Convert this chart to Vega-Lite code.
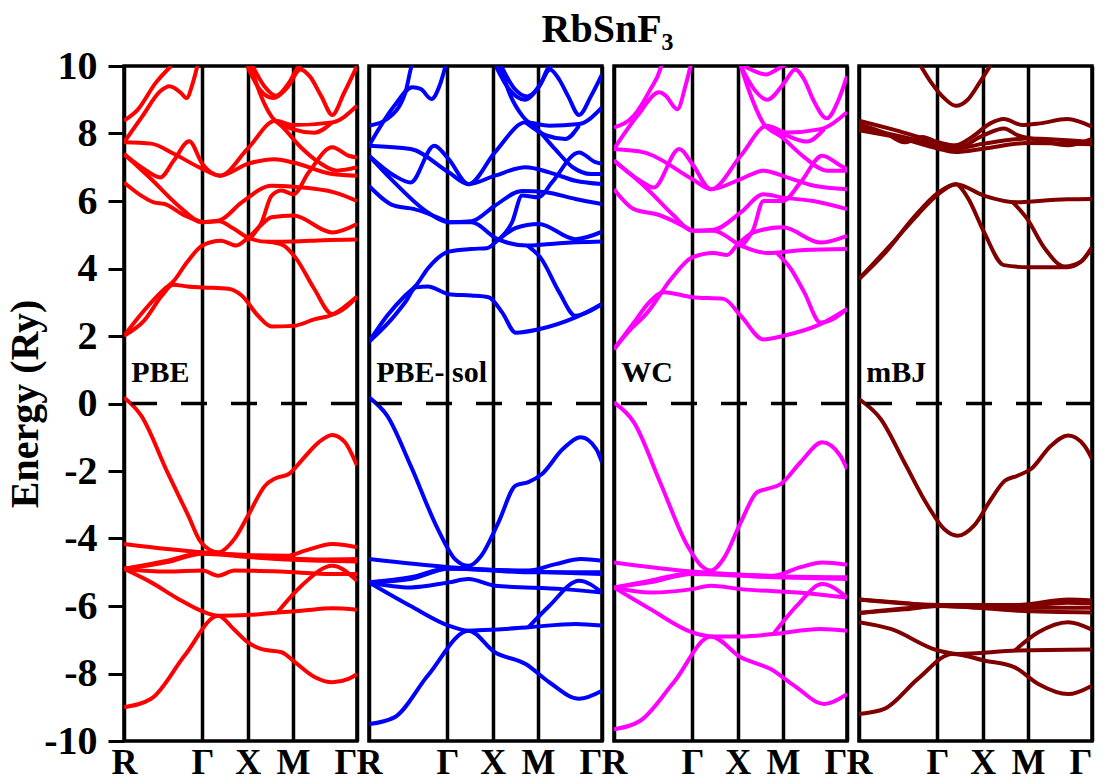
{
  "$schema": "https://vega.github.io/schema/vega-lite/v6.json",
  "background": "white",
  "bounds": "flush",
  "padding": {"left": 5, "top": 10, "right": 5, "bottom": 5},
  "title": {"text": "RbSnF₃", "anchor": "middle", "font": "Liberation Serif", "fontSize": 40, "fontWeight": "bold", "color": "black", "offset": -4, "dx": 57},
  "data": {"values": [
    {"m":"PBE","b":"c1","k":0,"e":2.01},{"m":"PBE","b":"c1","k":0.22,"e":2.45},{"m":"PBE","b":"c1","k":0.42,"e":3.2},{"m":"PBE","b":"c1","k":0.54,"e":3.52},{"m":"PBE","b":"c1","k":0.70,"e":3.47},{"m":"PBE","b":"c1","k":0.866,"e":3.44},{"m":"PBE","b":"c1","k":1.15,"e":3.4},{"m":"PBE","b":"c1","k":1.30,"e":3.2},{"m":"PBE","b":"c1","k":1.48,"e":2.6},{"m":"PBE","b":"c1","k":1.63,"e":2.28},{"m":"PBE","b":"c1","k":1.87,"e":2.3},{"m":"PBE","b":"c1","k":2.11,"e":2.5},{"m":"PBE","b":"c1","k":2.30,"e":2.63},{"m":"PBE","b":"c1","k":2.573,"e":3.17},
    {"m":"PBE","b":"c2","k":0,"e":2.01},{"m":"PBE","b":"c2","k":0.22,"e":2.75},{"m":"PBE","b":"c2","k":0.45,"e":3.4},{"m":"PBE","b":"c2","k":0.54,"e":3.6},{"m":"PBE","b":"c2","k":0.70,"e":4.2},{"m":"PBE","b":"c2","k":0.866,"e":4.68},{"m":"PBE","b":"c2","k":1.07,"e":4.82},{"m":"PBE","b":"c2","k":1.24,"e":4.68},{"m":"PBE","b":"c2","k":1.366,"e":4.9},{"m":"PBE","b":"c2","k":1.50,"e":5.25},{"m":"PBE","b":"c2","k":1.63,"e":5.52},{"m":"PBE","b":"c2","k":1.87,"e":5.57},{"m":"PBE","b":"c2","k":2.30,"e":5.07},{"m":"PBE","b":"c2","k":2.573,"e":5.32},
    {"m":"PBE","b":"c3","k":0.866,"e":5.37},{"m":"PBE","b":"c3","k":1.05,"e":5.4},{"m":"PBE","b":"c3","k":1.2,"e":5.2},{"m":"PBE","b":"c3","k":1.366,"e":4.92},{"m":"PBE","b":"c3","k":1.59,"e":4.79},{"m":"PBE","b":"c3","k":1.87,"e":4.8},{"m":"PBE","b":"c3","k":2.2,"e":4.84},{"m":"PBE","b":"c3","k":2.573,"e":4.86},
    {"m":"PBE","b":"c3b","k":1.59,"e":4.79},{"m":"PBE","b":"c3b","k":1.75,"e":4.7},{"m":"PBE","b":"c3b","k":1.9,"e":4.3},{"m":"PBE","b":"c3b","k":2.1,"e":3.4},{"m":"PBE","b":"c3b","k":2.30,"e":2.65},{"m":"PBE","b":"c3b","k":2.45,"e":2.85},{"m":"PBE","b":"c3b","k":2.573,"e":3.17},
    {"m":"PBE","b":"c4","k":0,"e":7.39},{"m":"PBE","b":"c4","k":0.30,"e":6.65},{"m":"PBE","b":"c4","k":0.60,"e":5.86},{"m":"PBE","b":"c4","k":0.866,"e":5.37},{"m":"PBE","b":"c4","k":1.05,"e":5.42},{"m":"PBE","b":"c4","k":1.30,"e":5.96},{"m":"PBE","b":"c4","k":1.63,"e":6.45},{"m":"PBE","b":"c4","k":1.87,"e":6.42},{"m":"PBE","b":"c4","k":2.33,"e":6.25},{"m":"PBE","b":"c4","k":2.573,"e":6.0},
    {"m":"PBE","b":"c5","k":0,"e":6.55},{"m":"PBE","b":"c5","k":0.19,"e":6.16},{"m":"PBE","b":"c5","k":0.33,"e":5.96},{"m":"PBE","b":"c5","k":0.45,"e":5.91},{"m":"PBE","b":"c5","k":0.67,"e":5.57},{"m":"PBE","b":"c5","k":0.866,"e":5.37},
    {"m":"PBE","b":"c7","k":1.366,"e":4.83},{"m":"PBE","b":"c7","k":1.52,"e":5.37},{"m":"PBE","b":"c7","k":1.63,"e":6.16},{"m":"PBE","b":"c7","k":1.74,"e":6.31},{"m":"PBE","b":"c7","k":1.87,"e":6.2},{"m":"PBE","b":"c7","k":2.04,"e":6.85},{"m":"PBE","b":"c7","k":2.30,"e":7.59},{"m":"PBE","b":"c7","k":2.48,"e":7.34},{"m":"PBE","b":"c7","k":2.573,"e":7.29},
    {"m":"PBE","b":"c8","k":0,"e":7.39},{"m":"PBE","b":"c8","k":0.22,"e":6.95},{"m":"PBE","b":"c8","k":0.40,"e":6.7},{"m":"PBE","b":"c8","k":0.55,"e":7.2},{"m":"PBE","b":"c8","k":0.72,"e":7.77},{"m":"PBE","b":"c8","k":0.866,"e":7.1},{"m":"PBE","b":"c8","k":1.06,"e":6.75},{"m":"PBE","b":"c8","k":1.366,"e":7.1},{"m":"PBE","b":"c8","k":1.66,"e":7.24},{"m":"PBE","b":"c8","k":1.87,"e":7.14},{"m":"PBE","b":"c8","k":2.30,"e":6.8},{"m":"PBE","b":"c8","k":2.573,"e":6.75},
    {"m":"PBE","b":"c9","k":0,"e":7.74},{"m":"PBE","b":"c9","k":0.3,"e":7.7},{"m":"PBE","b":"c9","k":0.55,"e":7.4},{"m":"PBE","b":"c9","k":0.866,"e":6.95},{"m":"PBE","b":"c9","k":1.06,"e":6.75},{"m":"PBE","b":"c9","k":1.366,"e":7.55},{"m":"PBE","b":"c9","k":1.67,"e":8.38},{"m":"PBE","b":"c9","k":1.87,"e":8.25},{"m":"PBE","b":"c9","k":2.30,"e":8.33},{"m":"PBE","b":"c9","k":2.573,"e":8.82},
    {"m":"PBE","b":"c10","k":1.67,"e":8.38},{"m":"PBE","b":"c10","k":1.87,"e":8.12},{"m":"PBE","b":"c10","k":2.1,"e":8.02},{"m":"PBE","b":"c10","k":2.3,"e":8.33},
    {"m":"PBE","b":"c11","k":1.40,"e":10.0},{"m":"PBE","b":"c11","k":1.50,"e":9.2},{"m":"PBE","b":"c11","k":1.63,"e":8.5},{"m":"PBE","b":"c11","k":1.75,"e":8.2},{"m":"PBE","b":"c11","k":1.95,"e":7.6},{"m":"PBE","b":"c11","k":2.15,"e":7.15},{"m":"PBE","b":"c11","k":2.35,"e":6.9},{"m":"PBE","b":"c11","k":2.573,"e":7.0},
    {"m":"PBE","b":"c13","k":0,"e":8.38},{"m":"PBE","b":"c13","k":0.15,"e":8.7},{"m":"PBE","b":"c13","k":0.35,"e":9.5},{"m":"PBE","b":"c13","k":0.52,"e":10.0},
    {"m":"PBE","b":"c14","k":0,"e":7.74},{"m":"PBE","b":"c14","k":0.2,"e":8.5},{"m":"PBE","b":"c14","k":0.4,"e":9.25},{"m":"PBE","b":"c14","k":0.50,"e":9.4},{"m":"PBE","b":"c14","k":0.63,"e":9.2},{"m":"PBE","b":"c14","k":0.69,"e":9.05},{"m":"PBE","b":"c14","k":0.76,"e":9.5},{"m":"PBE","b":"c14","k":0.81,"e":10.0},
    {"m":"PBE","b":"c15","k":1.36,"e":10},{"m":"PBE","b":"c15","k":1.5,"e":9.3},{"m":"PBE","b":"c15","k":1.65,"e":9.05},{"m":"PBE","b":"c15","k":1.8,"e":9.35},{"m":"PBE","b":"c15","k":1.95,"e":9.9},{"m":"PBE","b":"c15","k":2.05,"e":9.7},{"m":"PBE","b":"c15","k":2.18,"e":9.1},{"m":"PBE","b":"c15","k":2.30,"e":8.55},{"m":"PBE","b":"c15","k":2.43,"e":9.2},{"m":"PBE","b":"c15","k":2.573,"e":10},
    {"m":"PBE","b":"c16","k":1.42,"e":10},{"m":"PBE","b":"c16","k":1.55,"e":9.4},{"m":"PBE","b":"c16","k":1.68,"e":9.12},{"m":"PBE","b":"c16","k":1.82,"e":9.5},{"m":"PBE","b":"c16","k":1.92,"e":9.95},{"m":"PBE","b":"c16","k":1.96,"e":10.05},
    {"m":"PBE","b":"v1","k":0,"e":0.18},{"m":"PBE","b":"v1","k":0.19,"e":-0.36},{"m":"PBE","b":"v1","k":0.48,"e":-2.04},{"m":"PBE","b":"v1","k":0.71,"e":-3.32},{"m":"PBE","b":"v1","k":0.85,"e":-4.11},{"m":"PBE","b":"v1","k":1.04,"e":-4.41},{"m":"PBE","b":"v1","k":1.22,"e":-4.01},{"m":"PBE","b":"v1","k":1.37,"e":-3.32},{"m":"PBE","b":"v1","k":1.56,"e":-2.43},{"m":"PBE","b":"v1","k":1.67,"e":-2.22},{"m":"PBE","b":"v1","k":1.82,"e":-2.09},{"m":"PBE","b":"v1","k":1.96,"e":-1.69},{"m":"PBE","b":"v1","k":2.15,"e":-1.15},{"m":"PBE","b":"v1","k":2.30,"e":-0.93},{"m":"PBE","b":"v1","k":2.44,"e":-1.15},{"m":"PBE","b":"v1","k":2.573,"e":-1.84},
    {"m":"PBE","b":"v2","k":0,"e":-4.16},{"m":"PBE","b":"v2","k":0.48,"e":-4.31},{"m":"PBE","b":"v2","k":0.866,"e":-4.41},{"m":"PBE","b":"v2","k":1.366,"e":-4.49},{"m":"PBE","b":"v2","k":1.80,"e":-4.51},{"m":"PBE","b":"v2","k":2.0,"e":-4.36},{"m":"PBE","b":"v2","k":2.30,"e":-4.16},{"m":"PBE","b":"v2","k":2.573,"e":-4.26},
    {"m":"PBE","b":"v3","k":0,"e":-4.9},{"m":"PBE","b":"v3","k":0.48,"e":-4.66},{"m":"PBE","b":"v3","k":0.866,"e":-4.43},{"m":"PBE","b":"v3","k":1.366,"e":-4.51},{"m":"PBE","b":"v3","k":1.87,"e":-4.6},{"m":"PBE","b":"v3","k":2.2,"e":-4.62},{"m":"PBE","b":"v3","k":2.573,"e":-4.61},
    {"m":"PBE","b":"v3b","k":0,"e":-4.9},{"m":"PBE","b":"v3b","k":0.48,"e":-4.7},{"m":"PBE","b":"v3b","k":0.866,"e":-4.45},{"m":"PBE","b":"v3b","k":1.366,"e":-4.55},{"m":"PBE","b":"v3b","k":1.87,"e":-4.63},{"m":"PBE","b":"v3b","k":2.573,"e":-4.68},
    {"m":"PBE","b":"v4","k":0,"e":-4.9},{"m":"PBE","b":"v4","k":0.48,"e":-4.98},{"m":"PBE","b":"v4","k":0.866,"e":-4.95},{"m":"PBE","b":"v4","k":1.04,"e":-5.1},{"m":"PBE","b":"v4","k":1.22,"e":-4.95},{"m":"PBE","b":"v4","k":1.73,"e":-4.98},{"m":"PBE","b":"v4","k":2.30,"e":-5.05},{"m":"PBE","b":"v4","k":2.573,"e":-5.05},
    {"m":"PBE","b":"v5","k":0,"e":-4.9},{"m":"PBE","b":"v5","k":0.30,"e":-5.3},{"m":"PBE","b":"v5","k":0.60,"e":-5.79},{"m":"PBE","b":"v5","k":0.85,"e":-6.14},{"m":"PBE","b":"v5","k":1.04,"e":-6.29},{"m":"PBE","b":"v5","k":1.37,"e":-6.27},{"m":"PBE","b":"v5","k":1.70,"e":-6.19},{"m":"PBE","b":"v5","k":1.96,"e":-6.14},{"m":"PBE","b":"v5","k":2.30,"e":-6.07},{"m":"PBE","b":"v5","k":2.573,"e":-6.11},
    {"m":"PBE","b":"v6","k":0,"e":-9.0},{"m":"PBE","b":"v6","k":0.30,"e":-8.75},{"m":"PBE","b":"v6","k":0.67,"e":-7.47},{"m":"PBE","b":"v6","k":1.04,"e":-6.29},{"m":"PBE","b":"v6","k":1.21,"e":-6.68},{"m":"PBE","b":"v6","k":1.37,"e":-7.08},{"m":"PBE","b":"v6","k":1.52,"e":-7.28},{"m":"PBE","b":"v6","k":1.74,"e":-7.37},{"m":"PBE","b":"v6","k":1.89,"e":-7.67},{"m":"PBE","b":"v6","k":2.11,"e":-8.11},{"m":"PBE","b":"v6","k":2.30,"e":-8.26},{"m":"PBE","b":"v6","k":2.48,"e":-8.16},{"m":"PBE","b":"v6","k":2.573,"e":-8.02},
    {"m":"PBE","b":"v7","k":1.70,"e":-6.17},{"m":"PBE","b":"v7","k":1.96,"e":-5.40},{"m":"PBE","b":"v7","k":2.30,"e":-4.81},{"m":"PBE","b":"v7","k":2.573,"e":-5.25},

    {"m":"PBE- sol","b":"c1","k":0,"e":1.83},{"m":"PBE- sol","b":"c1","k":0.25,"e":2.5},{"m":"PBE- sol","b":"c1","k":0.40,"e":3.0},{"m":"PBE- sol","b":"c1","k":0.52,"e":3.44},{"m":"PBE- sol","b":"c1","k":0.65,"e":3.47},{"m":"PBE- sol","b":"c1","k":0.88,"e":3.24},{"m":"PBE- sol","b":"c1","k":1.13,"e":3.2},{"m":"PBE- sol","b":"c1","k":1.32,"e":3.15},{"m":"PBE- sol","b":"c1","k":1.47,"e":2.7},{"m":"PBE- sol","b":"c1","k":1.62,"e":2.1},{"m":"PBE- sol","b":"c1","k":1.875,"e":2.2},{"m":"PBE- sol","b":"c1","k":2.28,"e":2.55},{"m":"PBE- sol","b":"c1","k":2.573,"e":2.95},
    {"m":"PBE- sol","b":"c2","k":0,"e":1.83},{"m":"PBE- sol","b":"c2","k":0.2,"e":2.6},{"m":"PBE- sol","b":"c2","k":0.40,"e":3.2},{"m":"PBE- sol","b":"c2","k":0.52,"e":3.5},{"m":"PBE- sol","b":"c2","k":0.65,"e":4.0},{"m":"PBE- sol","b":"c2","k":0.88,"e":4.5},{"m":"PBE- sol","b":"c2","k":1.13,"e":4.58},{"m":"PBE- sol","b":"c2","k":1.3,"e":4.6},{"m":"PBE- sol","b":"c2","k":1.42,"e":4.83},{"m":"PBE- sol","b":"c2","k":1.62,"e":5.2},{"m":"PBE- sol","b":"c2","k":1.875,"e":5.32},{"m":"PBE- sol","b":"c2","k":2.28,"e":4.87},{"m":"PBE- sol","b":"c2","k":2.573,"e":5.09},
    {"m":"PBE- sol","b":"c3","k":0.88,"e":5.37},{"m":"PBE- sol","b":"c3","k":1.13,"e":5.37},{"m":"PBE- sol","b":"c3","k":1.42,"e":4.87},{"m":"PBE- sol","b":"c3","k":1.75,"e":4.68},{"m":"PBE- sol","b":"c3","k":2.1,"e":4.75},{"m":"PBE- sol","b":"c3","k":2.573,"e":4.8},
    {"m":"PBE- sol","b":"c3b","k":1.75,"e":4.68},{"m":"PBE- sol","b":"c3b","k":1.9,"e":4.3},{"m":"PBE- sol","b":"c3b","k":2.1,"e":3.3},{"m":"PBE- sol","b":"c3b","k":2.28,"e":2.6},{"m":"PBE- sol","b":"c3b","k":2.45,"e":2.75},{"m":"PBE- sol","b":"c3b","k":2.573,"e":2.95},
    {"m":"PBE- sol","b":"c4","k":0,"e":7.34},{"m":"PBE- sol","b":"c4","k":0.28,"e":6.55},{"m":"PBE- sol","b":"c4","k":0.65,"e":5.66},{"m":"PBE- sol","b":"c4","k":0.88,"e":5.37},{"m":"PBE- sol","b":"c4","k":1.13,"e":5.4},{"m":"PBE- sol","b":"c4","k":1.39,"e":5.86},{"m":"PBE- sol","b":"c4","k":1.69,"e":6.3},{"m":"PBE- sol","b":"c4","k":1.95,"e":6.26},{"m":"PBE- sol","b":"c4","k":2.28,"e":6.06},{"m":"PBE- sol","b":"c4","k":2.573,"e":5.91},
    {"m":"PBE- sol","b":"c5","k":0,"e":6.45},{"m":"PBE- sol","b":"c5","k":0.28,"e":5.86},{"m":"PBE- sol","b":"c5","k":0.50,"e":5.76},{"m":"PBE- sol","b":"c5","k":0.88,"e":5.37},
    {"m":"PBE- sol","b":"c7","k":1.42,"e":4.83},{"m":"PBE- sol","b":"c7","k":1.58,"e":5.37},{"m":"PBE- sol","b":"c7","k":1.69,"e":6.16},{"m":"PBE- sol","b":"c7","k":1.875,"e":6.11},{"m":"PBE- sol","b":"c7","k":2.02,"e":6.55},{"m":"PBE- sol","b":"c7","k":2.32,"e":7.44},{"m":"PBE- sol","b":"c7","k":2.50,"e":7.15},{"m":"PBE- sol","b":"c7","k":2.573,"e":7.1},
    {"m":"PBE- sol","b":"c8","k":0,"e":7.34},{"m":"PBE- sol","b":"c8","k":0.28,"e":6.75},{"m":"PBE- sol","b":"c8","k":0.46,"e":6.55},{"m":"PBE- sol","b":"c8","k":0.72,"e":7.64},{"m":"PBE- sol","b":"c8","k":0.88,"e":7.24},{"m":"PBE- sol","b":"c8","k":1.1,"e":6.5},{"m":"PBE- sol","b":"c8","k":1.39,"e":6.75},{"m":"PBE- sol","b":"c8","k":1.73,"e":7.0},{"m":"PBE- sol","b":"c8","k":1.99,"e":6.85},{"m":"PBE- sol","b":"c8","k":2.28,"e":6.6},{"m":"PBE- sol","b":"c8","k":2.573,"e":6.5},
    {"m":"PBE- sol","b":"c9","k":0,"e":7.64},{"m":"PBE- sol","b":"c9","k":0.46,"e":7.54},{"m":"PBE- sol","b":"c9","k":0.88,"e":6.85},{"m":"PBE- sol","b":"c9","k":1.1,"e":6.5},{"m":"PBE- sol","b":"c9","k":1.39,"e":7.44},{"m":"PBE- sol","b":"c9","k":1.73,"e":8.33},{"m":"PBE- sol","b":"c9","k":1.99,"e":8.23},{"m":"PBE- sol","b":"c9","k":2.32,"e":8.28},{"m":"PBE- sol","b":"c9","k":2.573,"e":8.77},
    {"m":"PBE- sol","b":"c10","k":1.73,"e":8.33},{"m":"PBE- sol","b":"c10","k":1.95,"e":7.95},{"m":"PBE- sol","b":"c10","k":2.17,"e":7.84},{"m":"PBE- sol","b":"c10","k":2.32,"e":8.23},
    {"m":"PBE- sol","b":"c11","k":1.45,"e":10},{"m":"PBE- sol","b":"c11","k":1.55,"e":9.2},{"m":"PBE- sol","b":"c11","k":1.70,"e":8.5},{"m":"PBE- sol","b":"c11","k":1.85,"e":8.15},{"m":"PBE- sol","b":"c11","k":2.05,"e":7.55},{"m":"PBE- sol","b":"c11","k":2.25,"e":7.0},{"m":"PBE- sol","b":"c11","k":2.45,"e":6.8},{"m":"PBE- sol","b":"c11","k":2.573,"e":6.8},
    {"m":"PBE- sol","b":"c13","k":0,"e":8.23},{"m":"PBE- sol","b":"c13","k":0.2,"e":8.43},{"m":"PBE- sol","b":"c13","k":0.40,"e":9.2},{"m":"PBE- sol","b":"c13","k":0.46,"e":9.9},{"m":"PBE- sol","b":"c13","k":0.48,"e":10.1},
    {"m":"PBE- sol","b":"c14","k":0,"e":7.64},{"m":"PBE- sol","b":"c14","k":0.28,"e":8.82},{"m":"PBE- sol","b":"c14","k":0.48,"e":9.37},{"m":"PBE- sol","b":"c14","k":0.57,"e":9.32},{"m":"PBE- sol","b":"c14","k":0.69,"e":9.02},{"m":"PBE- sol","b":"c14","k":0.78,"e":9.42},{"m":"PBE- sol","b":"c14","k":0.85,"e":10.05},
    {"m":"PBE- sol","b":"c15","k":1.40,"e":10},{"m":"PBE- sol","b":"c15","k":1.55,"e":9.3},{"m":"PBE- sol","b":"c15","k":1.72,"e":9.0},{"m":"PBE- sol","b":"c15","k":1.88,"e":9.4},{"m":"PBE- sol","b":"c15","k":2.0,"e":9.9},{"m":"PBE- sol","b":"c15","k":2.1,"e":9.6},{"m":"PBE- sol","b":"c15","k":2.2,"e":9.1},{"m":"PBE- sol","b":"c15","k":2.32,"e":8.55},{"m":"PBE- sol","b":"c15","k":2.45,"e":9.1},{"m":"PBE- sol","b":"c15","k":2.573,"e":9.75},
    {"m":"PBE- sol","b":"c16","k":1.46,"e":10},{"m":"PBE- sol","b":"c16","k":1.6,"e":9.35},{"m":"PBE- sol","b":"c16","k":1.75,"e":9.1},{"m":"PBE- sol","b":"c16","k":1.9,"e":9.5},{"m":"PBE- sol","b":"c16","k":1.98,"e":9.95},{"m":"PBE- sol","b":"c16","k":2.02,"e":10.05},
    {"m":"PBE- sol","b":"v1","k":0,"e":0.18},{"m":"PBE- sol","b":"v1","k":0.20,"e":-0.36},{"m":"PBE- sol","b":"v1","k":0.46,"e":-1.84},{"m":"PBE- sol","b":"v1","k":0.76,"e":-3.72},{"m":"PBE- sol","b":"v1","k":0.95,"e":-4.61},{"m":"PBE- sol","b":"v1","k":1.10,"e":-4.81},{"m":"PBE- sol","b":"v1","k":1.24,"e":-4.51},{"m":"PBE- sol","b":"v1","k":1.43,"e":-3.52},{"m":"PBE- sol","b":"v1","k":1.62,"e":-2.43},{"m":"PBE- sol","b":"v1","k":1.76,"e":-2.33},{"m":"PBE- sol","b":"v1","k":1.91,"e":-2.09},{"m":"PBE- sol","b":"v1","k":2.14,"e":-1.35},{"m":"PBE- sol","b":"v1","k":2.34,"e":-1.0},{"m":"PBE- sol","b":"v1","k":2.51,"e":-1.35},{"m":"PBE- sol","b":"v1","k":2.573,"e":-1.74},
    {"m":"PBE- sol","b":"v2","k":0,"e":-4.61},{"m":"PBE- sol","b":"v2","k":0.88,"e":-4.85},{"m":"PBE- sol","b":"v2","k":1.76,"e":-4.95},{"m":"PBE- sol","b":"v2","k":2.06,"e":-4.76},{"m":"PBE- sol","b":"v2","k":2.34,"e":-4.61},{"m":"PBE- sol","b":"v2","k":2.573,"e":-4.66},
    {"m":"PBE- sol","b":"v3","k":0,"e":-5.3},{"m":"PBE- sol","b":"v3","k":0.46,"e":-5.2},{"m":"PBE- sol","b":"v3","k":0.88,"e":-4.9},{"m":"PBE- sol","b":"v3","k":1.76,"e":-4.98},{"m":"PBE- sol","b":"v3","k":2.573,"e":-5.05},
    {"m":"PBE- sol","b":"v3b","k":0,"e":-5.3},{"m":"PBE- sol","b":"v3b","k":0.46,"e":-5.15},{"m":"PBE- sol","b":"v3b","k":0.88,"e":-4.88},{"m":"PBE- sol","b":"v3b","k":1.76,"e":-5.0},{"m":"PBE- sol","b":"v3b","k":2.2,"e":-5.0},{"m":"PBE- sol","b":"v3b","k":2.573,"e":-5.0},
    {"m":"PBE- sol","b":"v4","k":0,"e":-5.3},{"m":"PBE- sol","b":"v4","k":0.46,"e":-5.45},{"m":"PBE- sol","b":"v4","k":0.88,"e":-5.3},{"m":"PBE- sol","b":"v4","k":1.1,"e":-5.2},{"m":"PBE- sol","b":"v4","k":1.39,"e":-5.4},{"m":"PBE- sol","b":"v4","k":2.14,"e":-5.5},{"m":"PBE- sol","b":"v4","k":2.573,"e":-5.6},
    {"m":"PBE- sol","b":"v5","k":0,"e":-5.3},{"m":"PBE- sol","b":"v5","k":0.46,"e":-6.0},{"m":"PBE- sol","b":"v5","k":0.88,"e":-6.58},{"m":"PBE- sol","b":"v5","k":1.1,"e":-6.73},{"m":"PBE- sol","b":"v5","k":1.39,"e":-6.7},{"m":"PBE- sol","b":"v5","k":1.76,"e":-6.63},{"m":"PBE- sol","b":"v5","k":2.28,"e":-6.53},{"m":"PBE- sol","b":"v5","k":2.573,"e":-6.58},
    {"m":"PBE- sol","b":"v6","k":0,"e":-9.5},{"m":"PBE- sol","b":"v6","k":0.28,"e":-9.3},{"m":"PBE- sol","b":"v6","k":0.65,"e":-8.06},{"m":"PBE- sol","b":"v6","k":1.1,"e":-6.73},{"m":"PBE- sol","b":"v6","k":1.39,"e":-7.37},{"m":"PBE- sol","b":"v6","k":1.73,"e":-7.72},{"m":"PBE- sol","b":"v6","k":1.99,"e":-8.26},{"m":"PBE- sol","b":"v6","k":2.32,"e":-8.75},{"m":"PBE- sol","b":"v6","k":2.573,"e":-8.51},
    {"m":"PBE- sol","b":"v7","k":1.76,"e":-6.63},{"m":"PBE- sol","b":"v7","k":1.99,"e":-6.0},{"m":"PBE- sol","b":"v7","k":2.32,"e":-5.25},{"m":"PBE- sol","b":"v7","k":2.573,"e":-5.6},

    {"m":"WC","b":"c1","k":0,"e":1.61},{"m":"WC","b":"c1","k":0.22,"e":2.4},{"m":"WC","b":"c1","k":0.39,"e":3.0},{"m":"WC","b":"c1","k":0.55,"e":3.3},{"m":"WC","b":"c1","k":0.864,"e":3.15},{"m":"WC","b":"c1","k":1.21,"e":3.1},{"m":"WC","b":"c1","k":1.40,"e":2.6},{"m":"WC","b":"c1","k":1.65,"e":1.9},{"m":"WC","b":"c1","k":1.864,"e":2.0},{"m":"WC","b":"c1","k":2.28,"e":2.35},{"m":"WC","b":"c1","k":2.573,"e":2.8},
    {"m":"WC","b":"c2","k":0,"e":1.61},{"m":"WC","b":"c2","k":0.15,"e":2.1},{"m":"WC","b":"c2","k":0.37,"e":2.7},{"m":"WC","b":"c2","k":0.63,"e":3.69},{"m":"WC","b":"c2","k":0.864,"e":4.33},{"m":"WC","b":"c2","k":1.1,"e":4.46},{"m":"WC","b":"c2","k":1.25,"e":4.4},{"m":"WC","b":"c2","k":1.36,"e":4.7},{"m":"WC","b":"c2","k":1.54,"e":5.07},{"m":"WC","b":"c2","k":1.864,"e":5.22},{"m":"WC","b":"c2","k":2.28,"e":4.77},{"m":"WC","b":"c2","k":2.573,"e":4.97},
    {"m":"WC","b":"c3","k":0.864,"e":5.12},{"m":"WC","b":"c3","k":1.1,"e":5.12},{"m":"WC","b":"c3","k":1.40,"e":4.68},{"m":"WC","b":"c3","k":1.69,"e":4.46},{"m":"WC","b":"c3","k":2.1,"e":4.55},{"m":"WC","b":"c3","k":2.573,"e":4.58},
    {"m":"WC","b":"c3b","k":1.80,"e":4.46},{"m":"WC","b":"c3b","k":1.95,"e":4.0},{"m":"WC","b":"c3b","k":2.1,"e":3.3},{"m":"WC","b":"c3b","k":2.28,"e":2.4},{"m":"WC","b":"c3b","k":2.45,"e":2.55},{"m":"WC","b":"c3b","k":2.573,"e":2.8},
    {"m":"WC","b":"c4","k":0,"e":7.2},{"m":"WC","b":"c4","k":0.37,"e":6.35},{"m":"WC","b":"c4","k":0.66,"e":5.57},{"m":"WC","b":"c4","k":0.864,"e":5.12},{"m":"WC","b":"c4","k":1.1,"e":5.15},{"m":"WC","b":"c4","k":1.40,"e":5.66},{"m":"WC","b":"c4","k":1.65,"e":6.2},{"m":"WC","b":"c4","k":1.864,"e":6.1},{"m":"WC","b":"c4","k":2.2,"e":6.0},{"m":"WC","b":"c4","k":2.573,"e":5.76},
    {"m":"WC","b":"c5","k":0,"e":6.35},{"m":"WC","b":"c5","k":0.22,"e":5.76},{"m":"WC","b":"c5","k":0.48,"e":5.6},{"m":"WC","b":"c5","k":0.864,"e":5.12},
    {"m":"WC","b":"c7","k":1.40,"e":4.63},{"m":"WC","b":"c7","k":1.54,"e":5.17},{"m":"WC","b":"c7","k":1.65,"e":6.0},{"m":"WC","b":"c7","k":1.864,"e":6.0},{"m":"WC","b":"c7","k":2.06,"e":6.55},{"m":"WC","b":"c7","k":2.30,"e":7.34},{"m":"WC","b":"c7","k":2.50,"e":7.05},{"m":"WC","b":"c7","k":2.573,"e":6.95},
    {"m":"WC","b":"c8","k":0,"e":7.2},{"m":"WC","b":"c8","k":0.29,"e":6.6},{"m":"WC","b":"c8","k":0.44,"e":6.4},{"m":"WC","b":"c8","k":0.72,"e":7.54},{"m":"WC","b":"c8","k":0.864,"e":7.1},{"m":"WC","b":"c8","k":1.07,"e":6.35},{"m":"WC","b":"c8","k":1.40,"e":6.65},{"m":"WC","b":"c8","k":1.65,"e":6.9},{"m":"WC","b":"c8","k":1.91,"e":6.7},{"m":"WC","b":"c8","k":2.21,"e":6.45},{"m":"WC","b":"c8","k":2.573,"e":6.35},
    {"m":"WC","b":"c9","k":0,"e":7.54},{"m":"WC","b":"c9","k":0.33,"e":7.44},{"m":"WC","b":"c9","k":0.864,"e":6.65},{"m":"WC","b":"c9","k":1.07,"e":6.35},{"m":"WC","b":"c9","k":1.40,"e":7.34},{"m":"WC","b":"c9","k":1.69,"e":8.23},{"m":"WC","b":"c9","k":1.91,"e":8.03},{"m":"WC","b":"c9","k":2.28,"e":8.13},{"m":"WC","b":"c9","k":2.573,"e":8.63},
    {"m":"WC","b":"c10","k":1.69,"e":8.23},{"m":"WC","b":"c10","k":1.91,"e":7.94},{"m":"WC","b":"c10","k":2.13,"e":7.76},{"m":"WC","b":"c10","k":2.32,"e":8.13},
    {"m":"WC","b":"c11","k":1.40,"e":10},{"m":"WC","b":"c11","k":1.50,"e":9.2},{"m":"WC","b":"c11","k":1.65,"e":8.3},{"m":"WC","b":"c11","k":1.85,"e":7.9},{"m":"WC","b":"c11","k":2.1,"e":7.3},{"m":"WC","b":"c11","k":2.35,"e":6.9},{"m":"WC","b":"c11","k":2.573,"e":6.9},
    {"m":"WC","b":"c13","k":0,"e":8.18},{"m":"WC","b":"c13","k":0.22,"e":8.53},{"m":"WC","b":"c13","k":0.40,"e":9.3},{"m":"WC","b":"c13","k":0.51,"e":9.9},{"m":"WC","b":"c13","k":0.53,"e":10.1},
    {"m":"WC","b":"c14","k":0,"e":7.54},{"m":"WC","b":"c14","k":0.26,"e":8.53},{"m":"WC","b":"c14","k":0.50,"e":9.22},{"m":"WC","b":"c14","k":0.57,"e":9.12},{"m":"WC","b":"c14","k":0.70,"e":8.72},{"m":"WC","b":"c14","k":0.79,"e":9.42},{"m":"WC","b":"c14","k":0.85,"e":10.05},
    {"m":"WC","b":"c15","k":1.40,"e":10},{"m":"WC","b":"c15","k":1.55,"e":9.3},{"m":"WC","b":"c15","k":1.69,"e":9.0},{"m":"WC","b":"c15","k":1.88,"e":9.5},{"m":"WC","b":"c15","k":2.0,"e":9.9},{"m":"WC","b":"c15","k":2.1,"e":9.6},{"m":"WC","b":"c15","k":2.2,"e":9.0},{"m":"WC","b":"c15","k":2.35,"e":8.45},{"m":"WC","b":"c15","k":2.48,"e":9.0},{"m":"WC","b":"c15","k":2.573,"e":9.7},
    {"m":"WC","b":"c16","k":1.40,"e":10.05},{"m":"WC","b":"c16","k":1.55,"e":9.85},{"m":"WC","b":"c16","k":1.68,"e":9.75},{"m":"WC","b":"c16","k":1.8,"e":9.9},{"m":"WC","b":"c16","k":1.9,"e":10.05},
    {"m":"WC","b":"v1","k":0,"e":0.03},{"m":"WC","b":"v1","k":0.22,"e":-0.56},{"m":"WC","b":"v1","k":0.51,"e":-2.34},{"m":"WC","b":"v1","k":0.81,"e":-4.21},{"m":"WC","b":"v1","k":0.96,"e":-4.8},{"m":"WC","b":"v1","k":1.07,"e":-4.95},{"m":"WC","b":"v1","k":1.21,"e":-4.6},{"m":"WC","b":"v1","k":1.40,"e":-3.52},{"m":"WC","b":"v1","k":1.58,"e":-2.63},{"m":"WC","b":"v1","k":1.69,"e":-2.53},{"m":"WC","b":"v1","k":1.84,"e":-2.39},{"m":"WC","b":"v1","k":2.06,"e":-1.74},{"m":"WC","b":"v1","k":2.30,"e":-1.15},{"m":"WC","b":"v1","k":2.50,"e":-1.55},{"m":"WC","b":"v1","k":2.573,"e":-1.94},
    {"m":"WC","b":"v2","k":0,"e":-4.71},{"m":"WC","b":"v2","k":0.864,"e":-4.98},{"m":"WC","b":"v2","k":1.76,"e":-5.1},{"m":"WC","b":"v2","k":2.06,"e":-4.85},{"m":"WC","b":"v2","k":2.30,"e":-4.71},{"m":"WC","b":"v2","k":2.573,"e":-4.78},
    {"m":"WC","b":"v3","k":0,"e":-5.45},{"m":"WC","b":"v3","k":0.40,"e":-5.3},{"m":"WC","b":"v3","k":0.864,"e":-5.05},{"m":"WC","b":"v3","k":1.76,"e":-5.15},{"m":"WC","b":"v3","k":2.573,"e":-5.2},
    {"m":"WC","b":"v3b","k":0,"e":-5.45},{"m":"WC","b":"v3b","k":0.4,"e":-5.25},{"m":"WC","b":"v3b","k":0.864,"e":-5.02},{"m":"WC","b":"v3b","k":1.76,"e":-5.12},{"m":"WC","b":"v3b","k":2.573,"e":-5.15},
    {"m":"WC","b":"v4","k":0,"e":-5.45},{"m":"WC","b":"v4","k":0.40,"e":-5.6},{"m":"WC","b":"v4","k":0.864,"e":-5.5},{"m":"WC","b":"v4","k":1.07,"e":-5.4},{"m":"WC","b":"v4","k":1.40,"e":-5.5},{"m":"WC","b":"v4","k":2.13,"e":-5.62},{"m":"WC","b":"v4","k":2.573,"e":-5.75},
    {"m":"WC","b":"v5","k":0,"e":-5.45},{"m":"WC","b":"v5","k":0.40,"e":-6.09},{"m":"WC","b":"v5","k":0.864,"e":-6.78},{"m":"WC","b":"v5","k":1.07,"e":-6.9},{"m":"WC","b":"v5","k":1.40,"e":-6.9},{"m":"WC","b":"v5","k":1.76,"e":-6.83},{"m":"WC","b":"v5","k":2.28,"e":-6.68},{"m":"WC","b":"v5","k":2.573,"e":-6.73},
    {"m":"WC","b":"v6","k":0,"e":-9.65},{"m":"WC","b":"v6","k":0.29,"e":-9.4},{"m":"WC","b":"v6","k":0.66,"e":-8.26},{"m":"WC","b":"v6","k":1.07,"e":-6.9},{"m":"WC","b":"v6","k":1.40,"e":-7.52},{"m":"WC","b":"v6","k":1.73,"e":-7.87},{"m":"WC","b":"v6","k":1.99,"e":-8.36},{"m":"WC","b":"v6","k":2.32,"e":-8.9},{"m":"WC","b":"v6","k":2.573,"e":-8.61},
    {"m":"WC","b":"v7","k":1.76,"e":-6.83},{"m":"WC","b":"v7","k":2.02,"e":-5.99},{"m":"WC","b":"v7","k":2.30,"e":-5.35},{"m":"WC","b":"v7","k":2.573,"e":-5.75},

    {"m":"mBJ","b":"m1","k":0,"e":3.69},{"m":"mBJ","b":"m1","k":0.3,"e":4.5},{"m":"mBJ","b":"m1","k":0.6,"e":5.5},{"m":"mBJ","b":"m1","k":0.875,"e":6.25},{"m":"mBJ","b":"m1","k":1.07,"e":6.5},{"m":"mBJ","b":"m1","k":1.377,"e":6.16},{"m":"mBJ","b":"m1","k":1.75,"e":5.96},{"m":"mBJ","b":"m1","k":1.864,"e":5.98},{"m":"mBJ","b":"m1","k":2.3,"e":6.05},{"m":"mBJ","b":"m1","k":2.573,"e":6.06},
    {"m":"mBJ","b":"m2","k":0,"e":3.69},{"m":"mBJ","b":"m2","k":0.35,"e":4.7},{"m":"mBJ","b":"m2","k":0.65,"e":5.6},{"m":"mBJ","b":"m2","k":0.875,"e":6.2},{"m":"mBJ","b":"m2","k":1.07,"e":6.5},{"m":"mBJ","b":"m2","k":1.2,"e":6.1},{"m":"mBJ","b":"m2","k":1.377,"e":5.1},{"m":"mBJ","b":"m2","k":1.6,"e":4.1},{"m":"mBJ","b":"m2","k":1.864,"e":4.04},{"m":"mBJ","b":"m2","k":2.3,"e":4.04},{"m":"mBJ","b":"m2","k":2.45,"e":4.2},{"m":"mBJ","b":"m2","k":2.573,"e":4.63},
    {"m":"mBJ","b":"m3","k":1.70,"e":5.96},{"m":"mBJ","b":"m3","k":1.85,"e":5.5},{"m":"mBJ","b":"m3","k":2.05,"e":4.6},{"m":"mBJ","b":"m3","k":2.27,"e":4.06},{"m":"mBJ","b":"m3","k":2.45,"e":4.2},{"m":"mBJ","b":"m3","k":2.573,"e":4.63},
    {"m":"mBJ","b":"u1","k":0,"e":8.38},{"m":"mBJ","b":"u1","k":0.4,"e":8.1},{"m":"mBJ","b":"u1","k":0.875,"e":7.74},{"m":"mBJ","b":"u1","k":1.06,"e":7.65},{"m":"mBJ","b":"u1","k":1.25,"e":7.9},{"m":"mBJ","b":"u1","k":1.45,"e":8.3},{"m":"mBJ","b":"u1","k":1.6,"e":8.43},{"m":"mBJ","b":"u1","k":1.8,"e":8.25},{"m":"mBJ","b":"u1","k":2.0,"e":8.3},{"m":"mBJ","b":"u1","k":2.3,"e":8.43},{"m":"mBJ","b":"u1","k":2.573,"e":8.2},
    {"m":"mBJ","b":"u2","k":0,"e":8.28},{"m":"mBJ","b":"u2","k":0.3,"e":8.0},{"m":"mBJ","b":"u2","k":0.5,"e":7.74},{"m":"mBJ","b":"u2","k":0.7,"e":7.9},{"m":"mBJ","b":"u2","k":0.875,"e":7.72},{"m":"mBJ","b":"u2","k":1.06,"e":7.55},{"m":"mBJ","b":"u2","k":1.377,"e":7.95},{"m":"mBJ","b":"u2","k":1.6,"e":8.15},{"m":"mBJ","b":"u2","k":1.75,"e":7.95},{"m":"mBJ","b":"u2","k":2.0,"e":7.8},{"m":"mBJ","b":"u2","k":2.3,"e":7.65},{"m":"mBJ","b":"u2","k":2.573,"e":7.84},
    {"m":"mBJ","b":"u3","k":0,"e":8.18},{"m":"mBJ","b":"u3","k":0.4,"e":7.95},{"m":"mBJ","b":"u3","k":0.875,"e":7.65},{"m":"mBJ","b":"u3","k":1.06,"e":7.55},{"m":"mBJ","b":"u3","k":1.377,"e":7.7},{"m":"mBJ","b":"u3","k":1.864,"e":7.85},{"m":"mBJ","b":"u3","k":2.573,"e":7.74},
    {"m":"mBJ","b":"u4","k":0,"e":8.1},{"m":"mBJ","b":"u4","k":0.4,"e":7.9},{"m":"mBJ","b":"u4","k":0.875,"e":7.55},{"m":"mBJ","b":"u4","k":1.06,"e":7.45},{"m":"mBJ","b":"u4","k":1.377,"e":7.55},{"m":"mBJ","b":"u4","k":1.864,"e":7.72},{"m":"mBJ","b":"u4","k":2.573,"e":7.68},
    {"m":"mBJ","b":"t1","k":0.66,"e":10.1},{"m":"mBJ","b":"t1","k":0.80,"e":9.5},{"m":"mBJ","b":"t1","k":0.94,"e":9.05},{"m":"mBJ","b":"t1","k":1.07,"e":8.82},{"m":"mBJ","b":"t1","k":1.2,"e":9.0},{"m":"mBJ","b":"t1","k":1.33,"e":9.5},{"m":"mBJ","b":"t1","k":1.47,"e":10.1},
    {"m":"mBJ","b":"v1","k":0,"e":0.13},{"m":"mBJ","b":"v1","k":0.24,"e":-0.46},{"m":"mBJ","b":"v1","k":0.50,"e":-1.74},{"m":"mBJ","b":"v1","k":0.76,"e":-3.03},{"m":"mBJ","b":"v1","k":0.94,"e":-3.72},{"m":"mBJ","b":"v1","k":1.09,"e":-3.92},{"m":"mBJ","b":"v1","k":1.27,"e":-3.62},{"m":"mBJ","b":"v1","k":1.46,"e":-2.83},{"m":"mBJ","b":"v1","k":1.61,"e":-2.29},{"m":"mBJ","b":"v1","k":1.75,"e":-2.14},{"m":"mBJ","b":"v1","k":1.90,"e":-1.94},{"m":"mBJ","b":"v1","k":2.12,"e":-1.25},{"m":"mBJ","b":"v1","k":2.31,"e":-0.95},{"m":"mBJ","b":"v1","k":2.49,"e":-1.25},{"m":"mBJ","b":"v1","k":2.573,"e":-1.64},
    {"m":"mBJ","b":"v2","k":0,"e":-5.81},{"m":"mBJ","b":"v2","k":0.875,"e":-5.97},{"m":"mBJ","b":"v2","k":1.75,"e":-5.97},{"m":"mBJ","b":"v2","k":2.31,"e":-5.81},{"m":"mBJ","b":"v2","k":2.573,"e":-5.84},
    {"m":"mBJ","b":"v3","k":0,"e":-5.81},{"m":"mBJ","b":"v3","k":0.46,"e":-5.9},{"m":"mBJ","b":"v3","k":0.875,"e":-5.99},{"m":"mBJ","b":"v3","k":1.75,"e":-6.0},{"m":"mBJ","b":"v3","k":2.3,"e":-5.9},{"m":"mBJ","b":"v3","k":2.573,"e":-5.92},
    {"m":"mBJ","b":"v3b","k":0,"e":-6.21},{"m":"mBJ","b":"v3b","k":0.65,"e":-6.04},{"m":"mBJ","b":"v3b","k":0.875,"e":-5.99},{"m":"mBJ","b":"v3b","k":1.75,"e":-6.14},{"m":"mBJ","b":"v3b","k":2.573,"e":-6.19},
    {"m":"mBJ","b":"v4","k":0,"e":-6.21},{"m":"mBJ","b":"v4","k":0.5,"e":-6.1},{"m":"mBJ","b":"v4","k":0.875,"e":-6.0},{"m":"mBJ","b":"v4","k":1.377,"e":-6.05},{"m":"mBJ","b":"v4","k":2.0,"e":-6.05},{"m":"mBJ","b":"v4","k":2.573,"e":-6.05},
    {"m":"mBJ","b":"v5","k":0,"e":-6.48},{"m":"mBJ","b":"v5","k":0.35,"e":-6.68},{"m":"mBJ","b":"v5","k":0.875,"e":-7.32},{"m":"mBJ","b":"v5","k":1.09,"e":-7.42},{"m":"mBJ","b":"v5","k":1.75,"e":-7.32},{"m":"mBJ","b":"v5","k":2.573,"e":-7.29},
    {"m":"mBJ","b":"v6","k":0,"e":-9.2},{"m":"mBJ","b":"v6","k":0.28,"e":-9.05},{"m":"mBJ","b":"v6","k":0.65,"e":-8.16},{"m":"mBJ","b":"v6","k":1.03,"e":-7.42},{"m":"mBJ","b":"v6","k":1.39,"e":-7.62},{"m":"mBJ","b":"v6","k":1.72,"e":-7.82},{"m":"mBJ","b":"v6","k":1.98,"e":-8.31},{"m":"mBJ","b":"v6","k":2.31,"e":-8.61},{"m":"mBJ","b":"v6","k":2.573,"e":-8.36},
    {"m":"mBJ","b":"v7","k":1.72,"e":-7.32},{"m":"mBJ","b":"v7","k":1.98,"e":-6.78},{"m":"mBJ","b":"v7","k":2.31,"e":-6.48},{"m":"mBJ","b":"v7","k":2.573,"e":-6.7}
  ]},
  "facet": {
    "column": {"field": "m", "type": "nominal", "sort": ["PBE", "PBE- sol", "WC", "mBJ"], "header": {"title": null, "labels": false}}
  },
  "spacing": 12,
  "spec": {
    "width": 233,
    "height": 675,
    "layer": [
      {
        "mark": {"type": "line", "strokeWidth": 4, "interpolate": "monotone", "clip": true},
        "encoding": {
          "x": {
            "field": "k", "type": "quantitative",
            "scale": {"domain": [0, 2.573], "nice": false, "zero": false},
            "axis": {
              "title": null,
              "values": [0, 0.866, 1.366, 1.866, 2.573],
              "labelExpr": "datum.value == 0 ? 'R' : datum.value < 1 ? 'Γ' : datum.value < 1.5 ? 'X' : datum.value < 2 ? 'M' : 'Γ'",
              "labelAlign": {"condition": {"test": "datum.value > 2.5", "value": "right"}, "value": "center"},
              "labelFlush": false, "labelOverlap": false, "labelBound": false,
              "labelFont": "Liberation Serif", "labelFontWeight": "bold", "labelFontSize": 36, "labelColor": "black",
              "labelPadding": 4,
              "ticks": false, "domain": false,
              "grid": true, "gridColor": "black", "gridWidth": 3.5, "gridOpacity": 1
            }
          },
          "y": {
            "field": "e", "type": "quantitative",
            "scale": {"domain": [-10, 10], "nice": false, "zero": false},
            "axis": {
              "title": "Energy (Ry)",
              "titleFont": "Liberation Serif", "titleFontWeight": "bold", "titleFontSize": 40, "titleColor": "black", "titlePadding": -2,
              "values": [-10, -9, -8, -7, -6, -5, -4, -3, -2, -1, 0, 1, 2, 3, 4, 5, 6, 7, 8, 9, 10],
              "labelExpr": "datum.value % 2 == 0 ? '' + datum.value : ''",
              "labelFont": "Liberation Serif", "labelFontWeight": "bold", "labelFontSize": 40, "labelColor": "black",
              "labelPadding": 11, "labelFlush": false, "labelOverlap": false, "labelBound": false,
              "tickSize": {"condition": {"test": "datum.value % 2 == 0", "value": 16}, "value": 8},
              "tickWidth": 3, "tickColor": "black",
              "domain": false, "grid": false
            }
          },
          "detail": {"field": "b", "type": "nominal"},
          "color": {
            "field": "m", "type": "nominal", "legend": null,
            "scale": {"domain": ["PBE", "PBE- sol", "WC", "mBJ"], "range": ["#ff0000", "#0000ff", "#ff00ff", "#800000"]}
          }
        }
      },
      {
        "transform": [{"filter": "datum.b == 'v1' && datum.k == 0"}],
        "mark": {"type": "rule", "color": "black", "strokeWidth": 3.5, "strokeDash": [26, 24]},
        "encoding": {"y": {"datum": 0, "type": "quantitative"}}
      },
      {
        "transform": [{"filter": "datum.b == 'v1' && datum.k == 0"}],
        "mark": {"type": "text", "font": "Liberation Serif", "fontWeight": "bold", "fontSize": 30, "align": "left", "baseline": "alphabetic", "color": "black"},
        "encoding": {
          "text": {"field": "m", "type": "nominal"},
          "x": {"datum": 0.08, "type": "quantitative"},
          "y": {"datum": 0.64, "type": "quantitative"}
        }
      }
    ]
  },
  "config": {
    "view": {"stroke": "black", "strokeWidth": 3.5},
    "font": "Liberation Serif"
  }
}
